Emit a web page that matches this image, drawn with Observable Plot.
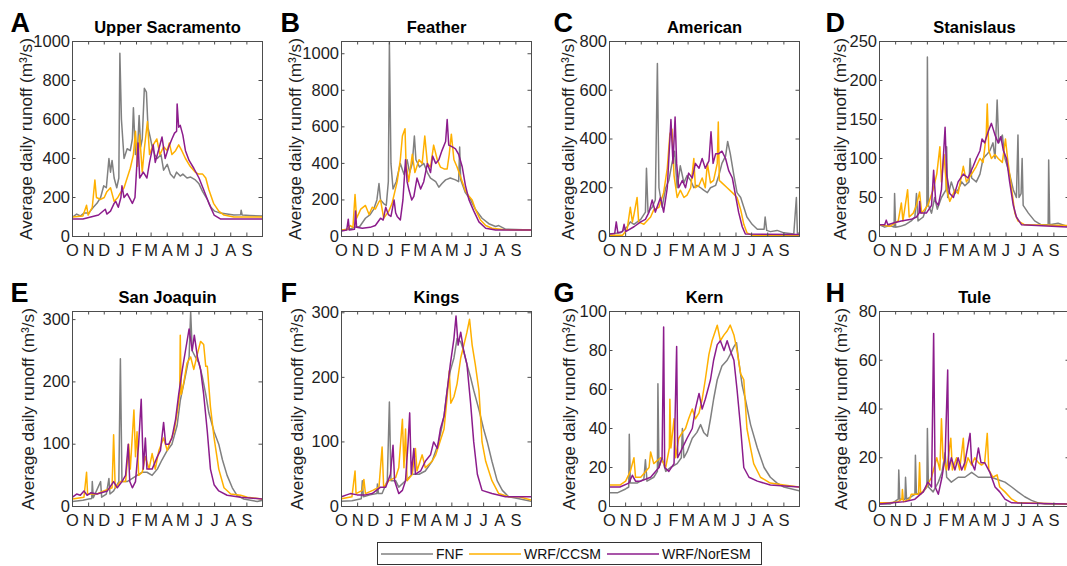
<!DOCTYPE html>
<html><head><meta charset="utf-8">
<script src="https://cdn.jsdelivr.net/npm/d3@7"></script>
<script src="https://cdn.jsdelivr.net/npm/@observablehq/plot@0.6"></script>
<style>
body{margin:0;background:#fff;}
#fig{position:relative;width:1067px;height:566px;overflow:hidden;background:#fff;font-family:"Liberation Sans",Arial,Helvetica,sans-serif;}
#fig svg{position:absolute;}
</style></head><body><div id="fig"></div>
<script>
// ---- month axis ----
const monthLabels = ["O","N","D","J","F","M","A","M","J","J","A","S"];
const monthDays   = [0,31,61,92,123,151,182,212,243,273,304,335];

// ---- series (day of water year, m3/s) ----
// A Upper Sacramento
const upSacFNF = [[0,100],[8,115],[15,105],[22,120],[31,120],[40,150],[47,170],[54,200],[60,260],[65,250],[70,400],[73,330],[76,390],[80,300],[85,250],[89,300],[91,940],[94,600],[99,400],[105,450],[111,440],[115,500],[117,660],[121,420],[125,450],[128,620],[131,460],[134,500],[138,760],[142,740],[145,560],[150,500],[153,460],[158,420],[163,400],[170,420],[175,340],[182,370],[188,320],[195,300],[200,330],[207,310],[212,320],[220,300],[227,305],[236,290],[243,270],[250,230],[259,190],[266,150],[273,130],[284,120],[297,115],[310,110],[323,112],[324,135],[326,110],[340,108],[365,105]];
const upSacCCSM = [[0,100],[20,105],[27,160],[30,110],[38,150],[43,290],[46,200],[54,190],[61,200],[66,230],[73,250],[80,180],[87,200],[91,220],[99,250],[105,300],[111,350],[117,420],[121,540],[125,360],[129,520],[134,330],[138,450],[144,590],[148,420],[155,470],[162,500],[168,420],[175,460],[182,440],[186,480],[191,420],[198,440],[204,470],[210,440],[217,400],[226,360],[236,330],[242,320],[250,320],[256,300],[262,240],[271,170],[281,130],[291,110],[310,100],[365,100]];
const upSacNorESM = [[0,90],[20,90],[35,100],[50,110],[63,140],[66,115],[73,130],[80,170],[83,180],[88,150],[93,200],[95,260],[99,200],[105,220],[111,190],[115,170],[120,200],[126,480],[129,300],[136,330],[143,300],[148,380],[155,470],[159,380],[166,450],[172,510],[178,400],[185,460],[191,500],[196,530],[200,540],[201,680],[204,560],[207,570],[212,520],[217,440],[224,390],[233,350],[243,300],[252,240],[262,170],[272,110],[284,90],[365,90]];
// B Feather
const featherFNF = [[0,35],[15,40],[25,50],[35,55],[46,100],[55,120],[62,150],[68,200],[72,290],[75,200],[81,180],[86,170],[90,300],[92,1060],[95,400],[99,260],[105,300],[113,400],[120,340],[126,420],[131,350],[136,400],[140,550],[143,420],[150,380],[158,400],[165,350],[171,320],[181,300],[187,270],[193,290],[200,310],[209,320],[219,310],[225,300],[227,490],[229,310],[238,240],[248,200],[257,150],[270,100],[283,70],[296,55],[302,60],[315,40],[365,35]];
const featherCCSM = [[0,35],[12,40],[17,60],[22,50],[26,230],[29,100],[37,150],[46,170],[53,120],[59,160],[65,150],[72,190],[75,200],[81,100],[91,140],[97,180],[107,300],[113,420],[117,550],[122,590],[124,400],[129,300],[136,450],[141,350],[149,420],[155,400],[160,550],[165,400],[171,380],[177,500],[184,420],[190,380],[197,370],[203,370],[207,450],[211,560],[216,420],[222,380],[232,300],[238,250],[245,220],[251,200],[257,150],[267,90],[277,60],[289,45],[310,38],[365,35]];
const featherNorESM = [[0,30],[10,35],[13,95],[15,35],[25,40],[27,140],[29,50],[40,45],[55,50],[65,60],[75,100],[80,90],[85,160],[90,120],[95,110],[101,200],[104,130],[107,110],[113,90],[118,200],[123,420],[126,300],[130,250],[135,200],[139,220],[145,320],[152,260],[158,300],[165,400],[171,350],[175,440],[181,400],[187,420],[193,470],[200,520],[203,640],[206,500],[213,490],[219,480],[225,450],[232,380],[238,280],[245,200],[254,140],[264,80],[277,45],[296,35],[365,35]];
// C American
const americanFNF = [[0,10],[21,15],[34,40],[40,60],[47,50],[60,70],[69,100],[71,280],[74,100],[82,120],[88,150],[92,710],[95,200],[101,120],[108,200],[114,230],[120,300],[125,350],[130,200],[136,290],[143,220],[149,250],[156,230],[162,200],[168,210],[175,200],[181,190],[188,180],[194,200],[204,210],[210,250],[216,300],[223,330],[227,390],[232,340],[239,250],[245,180],[252,160],[258,120],[264,80],[274,50],[284,30],[297,30],[299,80],[302,25],[309,20],[322,25],[335,15],[354,10],[359,160],[361,12],[365,15]];
const americanCCSM = [[0,5],[25,5],[34,30],[40,120],[44,60],[47,90],[53,160],[56,60],[66,50],[79,80],[85,110],[95,120],[104,180],[111,280],[116,420],[120,440],[124,250],[130,160],[136,190],[143,160],[149,170],[156,200],[162,320],[165,200],[172,210],[178,240],[184,200],[188,300],[194,220],[200,230],[207,300],[209,470],[211,230],[216,220],[226,200],[236,180],[245,160],[252,110],[258,50],[264,15],[274,5],[365,5]];
const americanNorESM = [[0,10],[10,12],[13,60],[16,15],[25,20],[28,50],[31,20],[47,40],[60,60],[69,70],[76,100],[82,150],[88,100],[98,160],[104,100],[111,200],[118,480],[122,300],[126,490],[129,300],[133,200],[140,230],[146,200],[152,260],[159,240],[165,300],[172,280],[178,320],[184,280],[191,310],[195,430],[199,300],[204,340],[210,340],[216,350],[223,320],[229,270],[236,240],[242,170],[248,100],[255,40],[261,10],[365,8]];
// D Stanislaus
const stanislausFNF = [[0,15],[10,12],[20,14],[28,12],[29,55],[31,12],[40,13],[49,15],[61,20],[68,25],[71,55],[74,20],[84,25],[91,40],[92,230],[94,40],[100,30],[106,50],[111,35],[119,50],[128,60],[129,115],[131,50],[138,70],[145,55],[151,60],[158,70],[164,65],[172,70],[174,100],[177,75],[186,70],[193,80],[199,100],[206,105],[212,110],[218,120],[222,100],[226,175],[229,120],[236,130],[241,100],[250,80],[257,60],[263,50],[266,130],[268,50],[272,55],[274,100],[276,40],[286,30],[298,20],[311,15],[324,15],[325,98],[327,15],[343,17],[365,12]];
const stanislausCCSM = [[0,15],[20,13],[36,20],[42,43],[45,20],[54,60],[57,25],[65,30],[71,40],[77,57],[81,30],[93,40],[103,60],[110,80],[116,115],[119,70],[124,105],[129,60],[135,45],[145,60],[151,55],[161,90],[167,70],[177,80],[186,90],[193,100],[199,95],[205,130],[207,170],[210,110],[215,100],[222,105],[228,100],[236,95],[242,125],[246,100],[254,60],[260,30],[266,20],[279,15],[365,14]];
const stanislausNorESM = [[0,15],[10,15],[13,21],[16,15],[30,18],[42,20],[61,22],[71,25],[76,30],[77,45],[79,30],[90,30],[100,40],[104,85],[108,45],[113,40],[119,60],[126,140],[129,80],[135,55],[142,50],[151,70],[161,80],[170,75],[180,90],[186,100],[193,110],[197,125],[202,120],[209,135],[215,145],[222,130],[228,120],[233,128],[238,110],[244,100],[250,70],[257,40],[263,25],[273,15],[365,12]];
// E San Joaquin
const sanJoaquinFNF = [[0,8],[20,10],[31,12],[37,13],[38,40],[40,14],[54,40],[56,15],[65,20],[70,45],[72,20],[79,25],[89,40],[92,237],[95,40],[105,40],[115,45],[124,50],[134,55],[143,55],[153,50],[163,60],[172,75],[182,90],[191,100],[201,130],[207,170],[217,210],[224,240],[227,313],[230,250],[236,240],[243,230],[249,210],[256,180],[262,150],[272,120],[281,100],[288,75],[297,50],[307,30],[316,18],[329,12],[342,10],[355,8],[365,10]];
const sanJoaquinCCSM = [[0,12],[22,15],[27,55],[29,20],[47,20],[60,25],[76,30],[79,115],[82,30],[92,40],[102,40],[108,100],[111,60],[118,155],[121,80],[124,120],[127,50],[134,55],[140,80],[147,60],[153,85],[159,60],[166,90],[175,110],[182,90],[188,105],[195,120],[201,150],[206,180],[207,275],[209,180],[214,200],[220,230],[227,240],[233,220],[240,245],[246,265],[252,260],[256,225],[259,225],[265,160],[272,110],[281,60],[291,30],[304,20],[323,18],[336,15],[365,12]];
const sanJoaquinNorESM = [[0,15],[8,20],[15,18],[22,25],[28,18],[35,22],[47,20],[67,25],[79,40],[86,30],[95,40],[102,50],[107,100],[110,40],[115,30],[121,40],[127,100],[132,172],[136,60],[140,110],[143,60],[153,60],[163,80],[169,90],[175,135],[179,100],[185,100],[191,110],[198,140],[204,180],[211,220],[217,250],[224,285],[230,250],[234,275],[240,240],[246,220],[252,180],[259,120],[265,60],[272,35],[281,25],[297,18],[323,15],[365,12]];
// F Kings
const kingsFNF = [[0,8],[20,9],[38,12],[40,40],[42,15],[55,18],[68,20],[69,35],[71,20],[78,20],[88,40],[92,162],[95,40],[104,40],[110,30],[123,40],[136,50],[149,50],[161,55],[174,70],[187,100],[197,140],[203,180],[209,210],[216,230],[222,260],[229,255],[235,240],[241,220],[248,200],[254,180],[264,150],[273,120],[280,100],[289,70],[299,40],[309,25],[321,15],[341,12],[365,8]];
const kingsCCSM = [[0,12],[20,15],[26,55],[28,20],[40,25],[43,42],[46,20],[60,25],[72,30],[78,92],[81,30],[91,40],[104,45],[110,60],[117,135],[120,60],[123,120],[126,40],[136,50],[142,90],[145,55],[155,80],[161,60],[174,70],[181,80],[187,95],[197,120],[203,170],[207,210],[210,160],[216,170],[222,190],[229,230],[235,250],[241,270],[246,290],[251,250],[257,220],[264,180],[270,100],[277,70],[289,40],[302,20],[321,15],[341,15],[365,10]];
const kingsNorESM = [[0,15],[10,18],[17,20],[30,18],[46,18],[59,20],[75,30],[85,30],[94,50],[99,95],[102,40],[110,20],[117,25],[123,40],[128,100],[131,145],[134,50],[139,90],[142,50],[152,55],[161,70],[171,80],[177,100],[184,90],[190,120],[197,140],[203,180],[209,220],[216,260],[220,295],[224,250],[229,270],[235,240],[241,220],[248,160],[254,100],[261,50],[270,25],[289,20],[315,15],[365,15]];
// G Kern
const kernFNF = [[0,7],[15,7],[31,9],[37,10],[38,37],[40,12],[53,12],[66,14],[69,24],[72,13],[85,15],[92,18],[93,63],[95,20],[101,25],[108,18],[117,20],[130,22],[138,25],[140,40],[143,25],[149,28],[159,35],[168,38],[175,42],[181,38],[188,36],[194,45],[200,55],[207,65],[216,72],[226,75],[232,78],[239,82],[244,84],[248,75],[255,62],[261,55],[271,42],[284,30],[297,20],[309,15],[322,12],[335,10],[365,8]];
const kernCCSM = [[0,11],[20,11],[31,13],[40,18],[47,25],[50,15],[60,15],[76,20],[79,28],[85,22],[98,25],[108,20],[115,30],[116,55],[118,30],[124,45],[127,25],[133,35],[140,38],[146,40],[152,45],[159,50],[165,45],[172,48],[178,55],[184,65],[191,78],[197,85],[207,93],[213,85],[220,88],[226,90],[232,93],[239,88],[245,80],[252,68],[258,65],[264,40],[271,30],[277,22],[290,15],[309,12],[335,11],[365,10]];
const kernNorESM = [[0,10],[20,10],[37,12],[44,16],[50,13],[60,13],[79,15],[95,20],[101,25],[104,92],[106,20],[114,18],[124,22],[129,82],[131,25],[140,30],[149,35],[159,40],[165,50],[172,58],[178,50],[184,55],[194,65],[200,75],[207,83],[213,85],[220,80],[226,85],[232,80],[239,75],[245,60],[252,40],[258,20],[268,15],[284,13],[309,11],[365,10]];
// H Tule
const tuleFNF = [[0,1],[20,1],[29,2],[36,3],[37,15],[39,3],[49,3],[50,12],[52,3],[61,4],[68,5],[69,21],[71,5],[84,6],[91,8],[92,32],[94,8],[103,6],[113,10],[120,14],[126,22],[129,12],[138,10],[151,12],[164,12],[177,14],[190,12],[202,12],[215,12],[228,11],[241,10],[254,8],[266,6],[279,4],[292,2.5],[305,1.5],[318,1],[365,1]];
const tuleCCSM = [[0,1.5],[20,1.5],[36,2],[43,3],[44,7],[46,2],[58,3],[61,5],[75,5],[77,18],[79,5],[90,8],[100,12],[110,20],[116,15],[119,36],[122,20],[129,15],[137,28],[140,15],[148,20],[154,15],[161,28],[164,15],[170,20],[177,17],[183,20],[190,18],[196,17],[202,18],[207,30],[210,15],[218,12],[226,13],[231,8],[241,6],[254,3],[266,1.5],[365,1]];
const tuleNorESM = [[0,1],[26,1.5],[49,2],[68,3],[84,6],[93,10],[100,8],[104,71],[107,8],[113,5],[120,12],[126,20],[131,56],[133,15],[138,20],[145,15],[151,20],[158,15],[164,18],[174,30],[177,18],[183,15],[190,24],[195,18],[202,18],[212,14],[222,8],[231,6],[241,3],[254,1.5],[365,1]];

// ---- legend / series metadata ----
const seriesNames = ["FNF", "WRF/CCSM", "WRF/NorESM"];
const seriesColors = ["#808080", "#FFB000", "#8C1C8C"];
const yLabel = "Average daily runoff (m³/s)";

// ---- panels ----
const panels = [
  {letter:"A", name:"Upper Sacramento", ymax:1000, yticks:[0,200,400,600,800,1000], series:[upSacFNF, upSacCCSM, upSacNorESM], col:0, row:0, letterDx:-62, labelDx:-46},
  {letter:"B", name:"Feather", ymax:1067, yticks:[0,200,400,600,800,1000], series:[featherFNF, featherCCSM, featherNorESM], col:1, row:0, letterDx:-61, labelDx:-46},
  {letter:"C", name:"American", ymax:800, yticks:[0,200,400,600,800], series:[americanFNF, americanCCSM, americanNorESM], col:2, row:0, letterDx:-56, labelDx:-41},
  {letter:"D", name:"Stanislaus", ymax:250, yticks:[0,50,100,150,200,250], series:[stanislausFNF, stanislausCCSM, stanislausNorESM], col:3, row:0, letterDx:-54, labelDx:-39},
  {letter:"E", name:"San Joaquin", ymax:313, yticks:[0,100,200,300], series:[sanJoaquinFNF, sanJoaquinCCSM, sanJoaquinNorESM], col:0, row:1, letterDx:-62, labelDx:-44},
  {letter:"F", name:"Kings", ymax:302, yticks:[0,100,200,300], series:[kingsFNF, kingsCCSM, kingsNorESM], col:1, row:1, letterDx:-61, labelDx:-44.5},
  {letter:"G", name:"Kern", ymax:100, yticks:[0,20,40,60,80,100], series:[kernFNF, kernCCSM, kernNorESM], col:2, row:1, letterDx:-56, labelDx:-40.5},
  {letter:"H", name:"Tule", ymax:80, yticks:[0,20,40,60,80], series:[tuleFNF, tuleCCSM, tuleNorESM], col:3, row:1, letterDx:-54, labelDx:-38.5}
];

const BOX_W = 190, BOX_H = 195, ML = 72, MR = 6, MT = 41, MB = 29;
const colLeft = [72, 341, 609, 879], rowTop = [41, 311];
const TICK = 3.5;
const axisColor = "#4d4d4d", textColor = "#1e1e1e";
const FONT = "'Liberation Sans', Arial, Helvetica, sans-serif";
const fig = document.getElementById("fig");
const monthTicks = monthDays.map((d, i) => ({day: d, label: monthLabels[i]}));

for (const p of panels) {
  const chart = Plot.plot({
    width: ML + BOX_W + MR,
    height: MT + BOX_H + MB,
    marginLeft: ML, marginRight: MR, marginTop: MT, marginBottom: MB,
    x: {domain: [0, 365], axis: null},
    y: {domain: [0, p.ymax], axis: null},
    style: {fontFamily: FONT, fontSize: "16px", background: "transparent", color: textColor, overflow: "visible"},
    marks: [
      ...p.series.map((s, i) => Plot.line(d3.sort(s, d => d[0]), {
        x: d => d[0], y: d => d[1], stroke: seriesColors[i], strokeWidth: 1.5, clip: true
      })),
      Plot.frame({stroke: axisColor, strokeWidth: 1}),
      Plot.tickX(monthDays, {x: d => d, insetTop: BOX_H - TICK, stroke: axisColor}),
      Plot.tickX(monthDays, {x: d => d, insetBottom: BOX_H - TICK, stroke: axisColor}),
      Plot.tickY(p.yticks, {y: d => d, insetRight: BOX_W - TICK, stroke: axisColor}),
      Plot.tickY(p.yticks, {y: d => d, insetLeft: BOX_W - TICK, stroke: axisColor}),
      Plot.text(monthTicks, {x: "day", text: "label", frameAnchor: "bottom", dy: 8, lineAnchor: "top", fill: textColor, fontSize: 16.5}),
      Plot.text(p.yticks, {y: d => d, text: d => String(d), frameAnchor: "left", dx: -2.5, textAnchor: "end", lineAnchor: "middle", fill: textColor, fontSize: 16.5}),
      Plot.text([yLabel], {text: d => d, frameAnchor: "left", dx: p.labelDx, rotate: -90, textAnchor: "middle", lineAnchor: "middle", fill: textColor, fontSize: 17.2}),
      Plot.text([p.name], {text: d => d, frameAnchor: "top", dy: -9, lineAnchor: "bottom", fontWeight: "bold", fill: "#000", fontSize: 16.5}),
      Plot.text([p.letter], {text: d => d, frameAnchor: "top-left", dx: p.letterDx, dy: -10, textAnchor: "start", lineAnchor: "bottom", fontWeight: "bold", fill: "#000", fontSize: 27})
    ]
  });
  chart.style.left = (colLeft[p.col] - ML) + "px";
  chart.style.top = (rowTop[p.row] - MT) + "px";
  chart.style.maxWidth = "none";
  fig.appendChild(chart);
}

// ---- legend ----
const lg = d3.create("svg").attr("width", 386).attr("height", 23)
  .style("left", "377px").style("top", "542px").style("position", "absolute");
lg.append("rect").attr("x", 0.5).attr("y", 0.5).attr("width", 384).attr("height", 22)
  .attr("fill", "#fff").attr("stroke", "#333").attr("stroke-width", 1);
const legendLineX = [4, 92, 230];
const legendLineW = 52;
seriesNames.forEach((name, i) => {
  const x0 = legendLineX[i];
  lg.append("line").attr("x1", x0).attr("x2", x0 + legendLineW).attr("y1", 12).attr("y2", 12)
    .attr("stroke", seriesColors[i]).attr("stroke-width", 1.5);
  lg.append("text").attr("x", x0 + legendLineW + 3).attr("y", 12).attr("dy", "0.35em")
    .attr("font-family", FONT).attr("font-size", 14).attr("fill", "#111").text(name);
});
fig.appendChild(lg.node());
</script>
</body></html>
